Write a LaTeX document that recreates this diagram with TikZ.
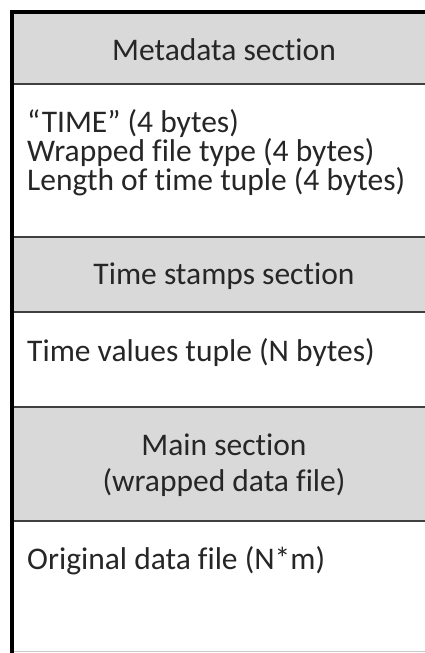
\documentclass[tikz,border=0pt]{standalone}
\usepackage{fontspec}
\setmainfont{Carlito}[Ligatures=NoCommon]
\usetikzlibrary{positioning}
\definecolor{hdrgray}{HTML}{D9D9D9}
\definecolor{rulegray}{HTML}{404040}
\definecolor{edgegray}{HTML}{C8C8C8}
\definecolor{ink}{HTML}{262626}

\begin{document}
\begin{tikzpicture}[x=1pt,y=-1pt,
  sect/.style={inner sep=0pt,outer sep=0pt,minimum width=420pt},
  secthead/.style={sect,fill=hdrgray},
  sectbody/.style={sect,fill=white},
  label/.style={font=\fontsize{31.5}{28}\selectfont,text=ink,inner sep=0pt}]
\useasboundingbox (0,0) rectangle (425,653);
\node[secthead,minimum height=72pt,anchor=north west] (meta) at (12,12) {};
\node[sectbody,minimum height=153pt,below=0pt of meta] (metabody) {};
\node[secthead,minimum height=75pt,below=0pt of metabody] (stamps) {};
\node[sectbody,minimum height=95pt,below=0pt of stamps] (stampsbody) {};
\node[secthead,minimum height=114pt,below=0pt of stampsbody] (wrap) {};
\node[sectbody,minimum height=130pt,below=0pt of wrap] (wrapbody) {};
\foreach \s in {meta,metabody,stamps,stampsbody,wrap}{\draw[rulegray,line width=1.6pt] (\s.south west)--(\s.south east);}
\draw[edgegray,line width=1pt] (wrapbody.south west)--(wrapbody.south east);
\draw[black,line width=4pt,line cap=rect] (wrapbody.south west)--(meta.north west)--(meta.north east);
\node[label] (metat) at (224,50) {Metadata section};
\node[label,anchor=west,align=left] (metabodyt) at (27,153) {“TIME” (4 bytes)\\Wrapped file type (4 bytes)\\Length of time tuple (4 bytes)};
\node[label] (stampst) at (224,276) {Time stamps section};
\node[label,anchor=west] (stampsbodyt) at (27,353) {Time values tuple (N bytes)};
\node[label,align=center,font=\fontsize{31.5}{36}\selectfont] (wrapt) at (224,465) {Main section\\(wrapped data file)};
\node[label,anchor=west] (wrapbodyt) at (27,561) {Original data file (N*m)};
\end{tikzpicture}
\end{document}
